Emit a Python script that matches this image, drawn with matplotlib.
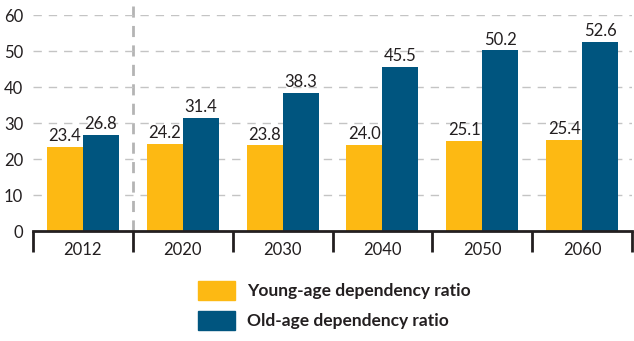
import matplotlib.pyplot as plt
from matplotlib.patches import Patch

years = ['2012', '2020', '2030', '2040', '2050', '2060']
young = [23.4, 24.2, 23.8, 24.0, 25.1, 25.4]
old = [26.8, 31.4, 38.3, 45.5, 50.2, 52.6]

yellow = '#FDB913'
blue = '#00557F'
txt = '#231F20'

plt.rcParams['font.family'] = ['Lato', 'DejaVu Sans']

fig = plt.figure(figsize=(6.34, 3.41), dpi=100)
ax = fig.add_axes([33 / 634, 110 / 341, 599 / 634, 216 / 341])

x = list(range(len(years)))
w = 0.36
b1 = ax.bar([i - w / 2 for i in x], young, width=w, color=yellow, zorder=3)
b2 = ax.bar([i + w / 2 for i in x], old, width=w, color=blue, zorder=3)

for bars, vals in ((b1, young), (b2, old)):
    for r, v in zip(bars, vals):
        ax.annotate(f'{v:.1f}', (r.get_x() + r.get_width() / 2, v),
                    xytext=(0, 2), textcoords='offset points',
                    ha='center', va='bottom', fontsize=12, color=txt)

ax.set_xlim(-0.5, len(years) - 0.5)
ax.set_ylim(0, 60)
ax.set_yticks(range(0, 61, 10))
ax.yaxis.grid(True, color='#C4C4C4', linestyle=(0, (6, 5)), linewidth=1, zorder=0)
ax.tick_params(axis='y', length=0, labelsize=12, labelcolor=txt, pad=7)

ax.set_xticks(x)
ax.set_xticklabels(years)
ax.set_xticks([i - 0.5 for i in range(len(years) + 1)], minor=True)
ax.tick_params(axis='x', which='major', length=0, labelsize=12, labelcolor=txt, pad=8)
ax.tick_params(axis='x', which='minor', length=15, width=2, color=txt, direction='out')

for s in ('top', 'right', 'left'):
    ax.spines[s].set_visible(False)
ax.spines['bottom'].set_linewidth(2)
ax.spines['bottom'].set_color(txt)
ax.spines['bottom'].set_zorder(4)

ax.axvline(0.5, ymin=0, ymax=1.06, color='#B4B4B4', linestyle=(0, (4, 3)),
           linewidth=2, clip_on=False, zorder=1)

handles = [Patch(color=yellow, label='Young-age dependency ratio'),
           Patch(color=blue, label='Old-age dependency ratio')]
fig.legend(handles=handles, loc='upper left', bbox_to_anchor=(198 / 634, 1 - 281 / 341),
           frameon=False, prop={'weight': 'bold', 'size': 12.5},
           handlelength=2.13, handleheight=1.33, labelspacing=0.62,
           handletextpad=0.7, borderpad=0, borderaxespad=0, labelcolor=txt)

fig.savefig('out.png', dpi=100)
